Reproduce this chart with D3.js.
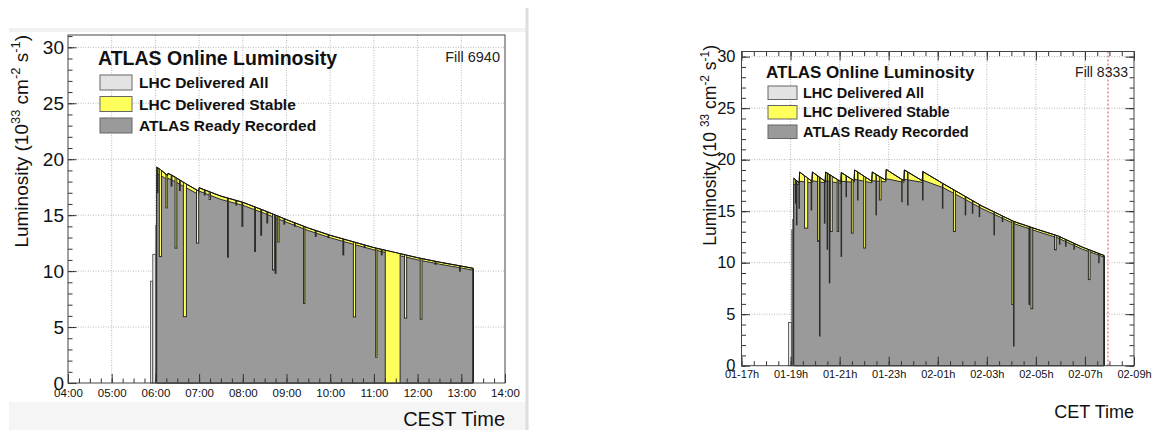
<!DOCTYPE html>
<html><head><meta charset="utf-8">
<script src="https://cdnjs.cloudflare.com/ajax/libs/d3/7.8.5/d3.min.js"></script>
<style>body{margin:0;background:#fff}svg{display:block;font-family:"Liberation Sans",Arial,Helvetica,sans-serif}</style>
</head><body><svg id="c" width="1153" height="430"></svg>
<script>
// ---------------- DATA ----------------
const yTickValues = [0, 5, 10, 15, 20, 25, 30];
const legendLabels = ["LHC Delivered All", "LHC Delivered Stable", "ATLAS Ready Recorded"];
const legendTitle = "ATLAS Online Luminosity";

// Left panel: Fill 6940, hours of the day (CEST)
const leftFill = "Fill 6940";
const leftXTickHours = [4, 5, 6, 7, 8, 9, 10, 11, 12, 13, 14];
const leftXTickLabels = ["04:00", "05:00", "06:00", "07:00", "08:00", "09:00", "10:00", "11:00", "12:00", "13:00", "14:00"];
const leftStableT = [6.03, 6.12, 6.28, 6.29, 6.45, 6.70, 6.99, 7.00, 7.5, 8.0, 8.5, 9.0, 9.5, 10.0, 10.5, 11.0, 11.5, 12.0, 12.5, 13.0, 13.27];
const leftStableV = [19.3, 19.05, 18.55, 18.75, 18.4, 17.8, 17.15, 17.45, 16.7, 16.15, 15.4, 14.6, 13.85, 13.2, 12.65, 12.1, 11.65, 11.2, 10.8, 10.45, 10.25];
const leftRecT = [6.03, 6.12, 6.28, 6.29, 6.45, 6.70, 6.99, 7.00, 7.5, 8.0, 8.5, 9.0, 9.5, 10.0, 10.5, 11.0, 11.5, 12.0, 12.5, 13.0, 13.27];
const leftRecV = [18.7, 18.55, 18.15, 18.3, 18.0, 17.45, 16.85, 17.15, 16.4, 15.88, 15.15, 14.37, 13.62, 12.98, 12.43, 11.9, 11.46, 11.01, 10.62, 10.28, 10.08];
// recorded dips: [start hour, end hour, value reached]
const leftDips = [
  [6.04, 6.06, 17.0], [6.09, 6.14, 11.3], [6.24, 6.27, 15.65], [6.36, 6.38, 17.6], [6.45, 6.49, 12.05],
  [6.55, 6.57, 17.2], [6.64, 6.71, 5.93], [6.94, 6.99, 12.5], [7.12, 7.14, 16.8], [7.23, 7.26, 16.4],
  [7.65, 7.67, 11.24], [7.84, 7.86, 15.9], [7.98, 8.00, 14.0], [8.27, 8.29, 11.75], [8.41, 8.43, 13.2],
  [8.55, 8.57, 14.3], [8.68, 8.72, 10.1], [8.74, 8.76, 9.8], [8.80, 8.83, 12.6], [8.94, 8.96, 14.2],
  [9.18, 9.20, 14.0], [9.39, 9.42, 7.1], [9.66, 9.68, 13.1], [9.95, 9.97, 13.0], [10.29, 10.31, 11.45],
  [10.53, 10.58, 5.9], [10.78, 10.80, 12.1], [11.04, 11.07, 2.3], [11.17, 11.19, 11.45], [11.26, 11.60, 0],
  [11.70, 11.75, 5.8], [12.06, 12.10, 5.7], [12.40, 12.42, 10.6], [12.96, 12.98, 10.0]
];
// delivered (all) before stable beams: [start, end, value]
const leftPreAll = [[5.89, 5.94, 9.1], [5.94, 6.01, 11.5], [6.01, 6.025, 14.1]];

// Right panel: Fill 8333, hours since start of day 1 (CET)
const rightFill = "Fill 8333";
const rightXTickHours = [17, 19, 21, 23, 25, 27, 29, 31, 33];
const rightXTickLabels = ["01-17h", "01-19h", "01-21h", "01-23h", "02-01h", "02-03h", "02-05h", "02-07h", "02-09h"];
const rightMarkerHour = 31.94;
const rightStableT = [19.13, 19.35, 19.37, 19.87, 19.89, 20.41, 20.43, 21.05, 21.07, 21.59, 21.61, 22.31, 22.33, 22.88, 22.90, 23.62, 23.64, 24.37, 24.39, 25.2, 26.0, 26.8, 28.1, 29.1, 29.9, 30.9, 31.78];
const rightStableV = [18.2, 17.75, 18.8, 17.9, 18.8, 17.9, 18.8, 17.85, 18.75, 17.95, 19.0, 17.9, 18.8, 18.0, 19.05, 17.95, 19.0, 17.95, 18.85, 17.7, 16.6, 15.5, 14.0, 13.2, 12.6, 11.5, 10.7];
const rightRecT = [19.13, 19.35, 19.37, 19.87, 19.89, 20.41, 20.43, 21.05, 21.07, 21.59, 21.61, 22.31, 22.33, 22.88, 22.90, 23.62, 23.64, 24.37, 24.39, 25.2, 26.0, 26.8, 28.1, 29.1, 29.9, 30.9, 31.78];
const rightRecV = [17.6, 17.6, 17.9, 17.75, 17.95, 17.75, 17.95, 17.7, 17.9, 17.8, 18.1, 17.75, 17.95, 17.85, 18.15, 17.8, 18.1, 17.8, 18.0, 17.3, 16.3, 15.25, 13.8, 13.0, 12.4, 11.3, 10.55];
const rightDips = [
  [19.20, 19.23, 15.77], [19.24, 19.26, 13.67], [19.34, 19.36, 15.28], [19.57, 19.70, 13.35],
  [19.84, 19.86, 15.12], [20.10, 20.17, 12.06], [20.18, 20.20, 2.88], [20.38, 20.40, 13.83],
  [20.49, 20.51, 11.3], [20.58, 20.60, 8.04], [20.62, 20.70, 13.03], [20.90, 20.96, 13.03],
  [21.06, 21.08, 10.61], [21.26, 21.28, 16.41], [21.48, 21.55, 12.87], [21.73, 21.75, 16.09],
  [21.98, 22.06, 11.42], [22.48, 22.50, 14.64], [22.62, 22.69, 16.09], [23.53, 23.55, 15.92],
  [23.77, 23.79, 15.6], [24.38, 24.40, 16.09], [25.19, 25.21, 15.28], [25.64, 25.72, 13.03],
  [26.12, 26.14, 14.64], [26.41, 26.43, 14.8], [26.69, 26.71, 14.47], [27.29, 27.31, 12.7],
  [27.63, 27.65, 13.99], [28.02, 28.08, 5.94], [28.09, 28.11, 1.91], [28.72, 28.74, 5.94],
  [28.80, 28.87, 5.53], [29.76, 29.83, 11.25], [29.96, 29.98, 11.8], [30.21, 30.23, 11.6],
  [30.55, 30.57, 11.3], [31.14, 31.21, 8.36], [31.56, 31.58, 10.0]
];
const rightPreAll = [[18.92, 19.05, 4.2], [19.05, 19.09, 13.2], [19.09, 19.125, 14.2]];

// ---------------- STYLE ----------------
const C_ALL = "#e3e3e3", C_STABLE = "#ffff5c", C_REC = "#9a9a9a";
const svg = d3.select("#c");
const defs = svg.append("defs");

// left screenshot border
svg.append("rect").attr("x", 9).attr("y", 28).attr("width", 517).attr("height", 4).attr("fill", "#f1f1f1");
svg.append("rect").attr("x", 9).attr("y", 402).attr("width", 517).attr("height", 28).attr("fill", "#f5f5f5");
svg.append("rect").attr("x", 525.5).attr("y", 8).attr("width", 3).attr("height", 422).attr("fill", "#dedede");

function panel(cfg) {
  const x = d3.scaleLinear().domain(cfg.xDomain).range(cfg.xRange);
  const y = d3.scaleLinear().domain([0, cfg.yMax]).range([cfg.yBottom, cfg.yTop]);
  const g = svg.append("g");
  const [xl, xr] = cfg.xRange;

  // grid
  g.selectAll(null).data(cfg.gridX).join("line")
    .attr("x1", d => x(d)).attr("x2", d => x(d)).attr("y1", cfg.yTop).attr("y2", cfg.yBottom)
    .attr("stroke", "#b0b0b0").attr("stroke-width", 0.9).attr("stroke-dasharray", "1,1.5");
  g.selectAll(null).data(yTickValues.filter(v => v > 0)).join("line")
    .attr("x1", xl).attr("x2", xr).attr("y1", d => y(d)).attr("y2", d => y(d))
    .attr("stroke", "#b0b0b0").attr("stroke-width", 0.9).attr("stroke-dasharray", "1,1.5");

  // delivered before stable beams
  g.selectAll(null).data(cfg.pre).join("rect")
    .attr("x", d => x(d[0])).attr("width", d => Math.max(0.8, x(d[1]) - x(d[0])))
    .attr("y", d => y(d[2])).attr("height", d => y(0) - y(d[2]))
    .attr("fill", C_ALL).attr("stroke", "#444").attr("stroke-width", 0.8);

  const stable = d3.zip(cfg.stableT, cfg.stableV);
  const rec = d3.zip(cfg.recT, cfg.recV);
  const area = d3.area().x(d => x(d[0])).y0(y(0)).y1(d => y(d[1]));
  const line = d3.line().x(d => x(d[0])).y(d => y(d[1]));
  defs.append("clipPath").attr("id", cfg.id + "clip").append("path").attr("d", area(stable));

  g.append("path").attr("d", area(stable)).attr("fill", C_STABLE).attr("stroke", "#111").attr("stroke-width", 1);
  g.append("path").attr("d", area(rec)).attr("fill", C_REC).attr("stroke", "#2a2a2a").attr("stroke-width", 1);
  g.append("g").attr("clip-path", `url(#${cfg.id}clip)`)
    .selectAll("rect").data(cfg.dips).join("rect")
    .attr("x", d => x(d[0])).attr("width", d => Math.max(0.5, x(d[1]) - x(d[0])))
    .attr("y", cfg.yTop - 5).attr("height", d => y(d[2]) - cfg.yTop + 5)
    .attr("fill", C_STABLE).attr("stroke", "#2a2a2a").attr("stroke-width", 1);
  g.append("path").attr("d", line(stable)).attr("fill", "none").attr("stroke", "#111").attr("stroke-width", 1);
  // end edge
  const last = stable[stable.length - 1];
  g.append("line").attr("x1", x(last[0])).attr("x2", x(last[0])).attr("y1", y(last[1])).attr("y2", y(0))
    .attr("stroke", "#111").attr("stroke-width", 1.2);

  if (cfg.marker != null) {
    g.append("line").attr("x1", x(cfg.marker)).attr("x2", x(cfg.marker)).attr("y1", cfg.yTop).attr("y2", cfg.yBottom)
      .attr("stroke", "#e04848").attr("stroke-width", 1).attr("stroke-dasharray", "2,2");
  }

  // axes
  const tickStyle = sel => { sel.select(".domain").remove(); sel.selectAll("line").attr("stroke", "#333"); };
  const xAxis = d3.axisBottom(x).tickValues(cfg.xTickHours).tickSize(-9).tickPadding(cfg.xPad)
    .tickFormat((d, i) => cfg.xTickLabels[i]);
  g.append("g").attr("transform", `translate(0,${cfg.yBottom})`).call(xAxis).call(tickStyle)
    .selectAll("text").attr("font-size", cfg.xFont).attr("fill", "#111").attr("font-family", "Liberation Sans, Arial, sans-serif");
  g.append("g").attr("transform", `translate(0,${cfg.yBottom})`)
    .call(d3.axisBottom(x).tickValues(cfg.xMinor).tickSize(-4.5).tickFormat("")).call(tickStyle);
  const yAxis = d3.axisLeft(y).tickValues(yTickValues).tickSize(-8.5).tickPadding(cfg.yPad);
  g.append("g").attr("transform", `translate(${xl},0)`).call(yAxis).call(tickStyle)
    .selectAll("text").attr("font-size", cfg.yFont).attr("fill", "#111").attr("font-family", "Liberation Sans, Arial, sans-serif");
  g.append("g").attr("transform", `translate(${xl},0)`)
    .call(d3.axisLeft(y).tickValues(d3.range(0, cfg.yMax, 1)).tickSize(-4.5).tickFormat("")).call(tickStyle);
  if (cfg.mirror) {
    g.append("g").attr("transform", `translate(0,${cfg.yTop})`)
      .call(d3.axisTop(x).tickValues(cfg.xTickHours).tickSize(-9).tickFormat("")).call(tickStyle);
    g.append("g").attr("transform", `translate(0,${cfg.yTop})`)
      .call(d3.axisTop(x).tickValues(cfg.xMinor).tickSize(-4.5).tickFormat("")).call(tickStyle);
    g.append("g").attr("transform", `translate(${xr},0)`)
      .call(d3.axisRight(y).tickValues(yTickValues).tickSize(-8.5).tickFormat("")).call(tickStyle);
    g.append("g").attr("transform", `translate(${xr},0)`)
      .call(d3.axisRight(y).tickValues(d3.range(0, cfg.yMax, 1)).tickSize(-4.5).tickFormat("")).call(tickStyle);
  }
  // frame
  g.append("rect").attr("x", xl).attr("y", cfg.yTop).attr("width", xr - xl).attr("height", cfg.yBottom - cfg.yTop)
    .attr("fill", "none").attr("stroke", "#444").attr("stroke-width", 1);

  // legend
  const L = cfg.legend;
  g.append("text").attr("x", L.x).attr("y", L.titleY).attr("font-size", L.titleFont).attr("font-weight", "bold")
    .attr("fill", "#111").text(legendTitle);
  const fills = [C_ALL, C_STABLE, C_REC];
  legendLabels.forEach((lab, i) => {
    g.append("rect").attr("x", L.x + 2).attr("y", L.boxY + i * L.step).attr("width", L.boxW).attr("height", L.boxH)
      .attr("fill", fills[i]).attr("stroke", "#666").attr("stroke-width", 1);
    g.append("text").attr("x", L.x + L.textDx).attr("y", L.boxY + i * L.step + L.boxH / 2 + L.labelFont * 0.36)
      .attr("font-size", L.labelFont).attr("font-weight", "bold").attr("fill", "#111").text(lab);
  });
  g.append("text").attr("x", cfg.fillX).attr("y", cfg.fillY).attr("text-anchor", "end")
    .attr("font-size", cfg.fillFont).attr("fill", "#222").text(cfg.fillText);

  // axis titles
  g.append("text").attr("x", xr).attr("y", cfg.xTitleY).attr("text-anchor", "end").attr("font-size", cfg.xTitleFont)
    .attr("fill", "#111").text(cfg.xTitle);
  const yt = g.append("text").attr("transform", `translate(${cfg.yTitleX},${cfg.yTitleY}) rotate(-90)`)
    .attr("text-anchor", "end").attr("font-size", cfg.yTitleFont).attr("fill", "#111");
  const sh = cfg.yTitleFont * 0.42, sf = cfg.yTitleFont * 0.68;
  yt.append("tspan").text("Luminosity (10" + cfg.yTitleGap);
  yt.append("tspan").attr("dy", -sh).attr("font-size", sf).text("33");
  yt.append("tspan").attr("dy", sh).text(" cm");
  yt.append("tspan").attr("dy", -sh).attr("font-size", sf).text("-2");
  yt.append("tspan").attr("dy", sh).text(" s");
  yt.append("tspan").attr("dy", -sh).attr("font-size", sf).text("-1");
  yt.append("tspan").attr("dy", sh).text(")");
}

panel({
  id: "L", xDomain: [4, 14], xRange: [68, 505], yMax: 31.1, yBottom: 383, yTop: 35,
  gridX: [5, 6, 7, 8, 9, 10, 11, 12, 13], xTickHours: leftXTickHours, xTickLabels: leftXTickLabels,
  xMinor: d3.range(4, 14.001, 0.25), xPad: 6, xFont: 11.5, yPad: 4, yFont: 19,
  stableT: leftStableT, stableV: leftStableV, recT: leftRecT, recV: leftRecV, dips: leftDips, pre: leftPreAll,
  marker: null, mirror: false,
  legend: { x: 98, titleY: 65, titleFont: 19.5, boxY: 75, step: 21.5, boxW: 32, boxH: 15, textDx: 41, labelFont: 15.5 },
  fillText: leftFill, fillX: 500, fillY: 62, fillFont: 14.5,
  xTitle: "CEST Time", xTitleY: 426, xTitleFont: 20,
  yTitleX: 28, yTitleY: 35, yTitleFont: 19, yTitleGap: ""
});

panel({
  id: "R", xDomain: [17, 33], xRange: [741.5, 1134], yMax: 30.5, yBottom: 365.7, yTop: 51.5,
  gridX: [19, 21, 23, 25, 27, 29, 31], xTickHours: rightXTickHours, xTickLabels: rightXTickLabels,
  xMinor: d3.range(17, 33.001, 0.5), xPad: 5, xFont: 11, yPad: 6, yFont: 16.5,
  stableT: rightStableT, stableV: rightStableV, recT: rightRecT, recV: rightRecV, dips: rightDips, pre: rightPreAll,
  marker: rightMarkerHour, mirror: true,
  legend: { x: 766, titleY: 78, titleFont: 17, boxY: 86, step: 19.5, boxW: 29, boxH: 13.5, textDx: 37, labelFont: 14.5 },
  fillText: rightFill, fillX: 1128, fillY: 77, fillFont: 14,
  xTitle: "CET Time", xTitleY: 418, xTitleFont: 18,
  yTitleX: 716, yTitleY: 45, yTitleFont: 17.5, yTitleGap: " "
});
</script></body></html>
